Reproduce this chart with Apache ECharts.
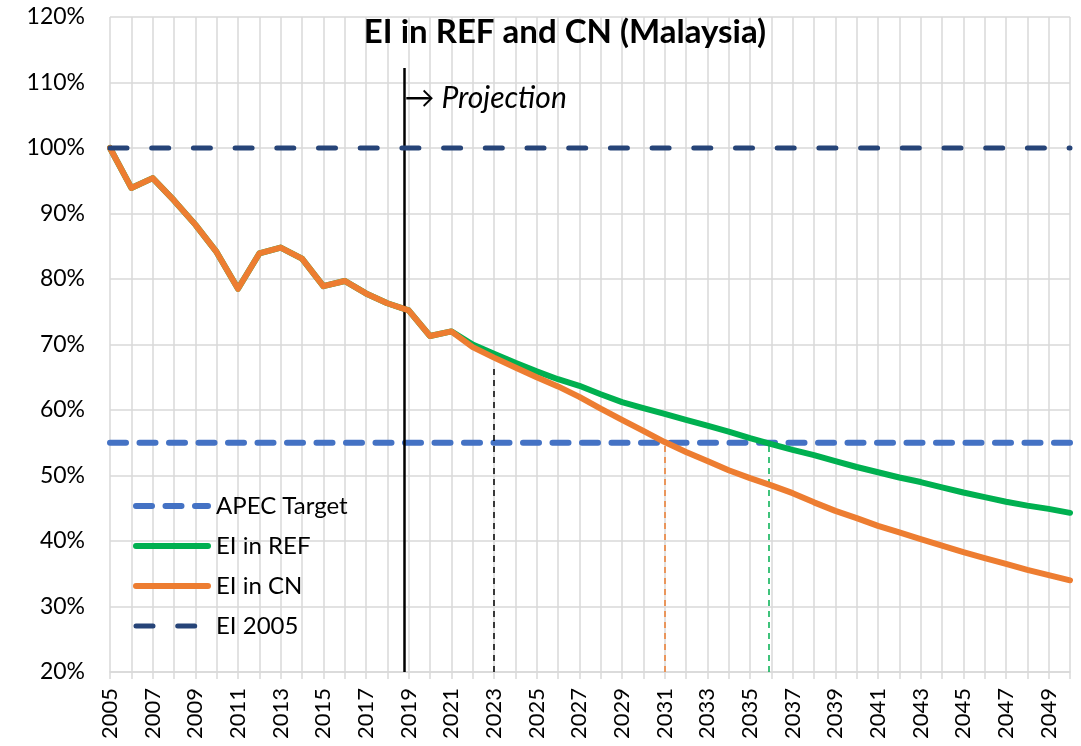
<!DOCTYPE html>
<html>
<head>
<meta charset="utf-8">
<script src="https://cdn.jsdelivr.net/npm/echarts@6/dist/echarts.min.js"></script>
<style>
  html, body { margin: 0; padding: 0; background: #fff; }
  #chart { width: 1081px; height: 746px; }
</style>
</head>
<body>
<div id="chart"></div>
<script>
// years on the x axis
var years = [];
for (var y = 2005; y <= 2050; y++) years.push(y);

// historical intensity, same for both scenarios (2005-2021)
var histEI = [100, 93.9, 95.4, 92.0, 88.3, 84.1, 78.5, 83.9, 84.8, 83.1, 78.9, 79.7, 77.8, 76.3, 75.2, 71.3, 72.0];
// projections 2022-2050
var refEI = [70.0, 68.6, 67.2, 65.9, 64.7, 63.7, 62.4, 61.2, 60.3, 59.4, 58.5, 57.6, 56.7, 55.7, 54.8, 53.9, 53.1, 52.2, 51.3, 50.5, 49.7, 49.0, 48.2, 47.4, 46.7, 46.0, 45.4, 44.9, 44.3];
var cnEI = [69.6, 68.0, 66.5, 65.0, 63.6, 62.0, 60.2, 58.5, 56.8, 55.1, 53.6, 52.2, 50.8, 49.6, 48.5, 47.3, 45.9, 44.6, 43.5, 42.3, 41.3, 40.3, 39.3, 38.3, 37.4, 36.5, 35.6, 34.8, 34.0];

var apecTarget = 55;
var ei2005 = 100;

// projection start and the drop lines
var projYear = 2018.8, projTop = 112.2;
var dropYears = [2023, 2031, 2035.9];
var dropTops = [66.7, 55, 55];
var dropColors = ['#000000', '#ED7D31', '#00B050'];

var yTicks = [20, 120, 10]; // min, max, step

function pairs(vals) {
  var out = [];
  for (var i = 0; i < vals.length; i++) out.push([years[i], vals[i]]);
  return out;
}
var refData = pairs(histEI.concat(refEI));
var cnData = pairs(histEI.concat(cnEI));
var first = years[0], last = years[years.length - 1];

var font = 'Lato, "Liberation Sans", sans-serif';
var gridColor = '#d9d9d9';

var styles = {
  'APEC Target': { color: '#4472C4', width: 6, type: [16, 13.5], cap: 'round' },
  'EI in REF': { color: '#00B050', width: 6, type: 'solid', cap: 'round', join: 'round' },
  'EI in CN': { color: '#ED7D31', width: 6, type: 'solid', cap: 'round', join: 'round' },
  'EI 2005': { color: '#264478', width: 5, type: [17, 24.7], cap: 'round' }
};

var dropLines = [];
for (var k = 0; k < dropYears.length; k++) {
  dropLines.push([
    { coord: [dropYears[k], yTicks[0]], lineStyle: { color: dropColors[k], type: [6, 5], width: 1.5 } },
    { coord: [dropYears[k], dropTops[k]] }
  ]);
}
dropLines.push([
  { coord: [projYear, yTicks[0]], lineStyle: { color: '#000', type: 'solid', width: 2.5 } },
  { coord: [projYear, projTop] }
]);

var legendItems = ['APEC Target', 'EI in REF', 'EI in CN', 'EI 2005'].map(function (n) {
  var s = styles[n];
  return {
    name: n,
    itemStyle: { opacity: 0 },
    lineStyle: { color: s.color, width: s.width, type: s.type, cap: 'round' }
  };
});

var chart = echarts.init(document.getElementById('chart'), null, { renderer: 'canvas' });
var option = {
  backgroundColor: '#fff',
  animation: false,
  title: {
    text: 'EI in REF and CN (Malaysia)',
    left: 560,
    textAlign: 'center',
    top: 11,
    textStyle: { fontFamily: font, fontWeight: 'bold', fontSize: 33, color: '#000' }
  },
  legend: {
    orient: 'vertical',
    left: 128,
    top: 489,
    itemWidth: 72,
    itemHeight: 14,
    itemGap: 16,
    data: legendItems,
    textStyle: { fontFamily: font, fontSize: 24, color: '#000', padding: [0, 0, 0, 3] }
  },
  grid: { left: 110, right: 11, top: 17, bottom: 74 },
  xAxis: {
    type: 'value',
    min: first,
    max: last,
    interval: 1,
    axisLine: { show: true, lineStyle: { color: gridColor, width: 1.5 } },
    axisTick: { show: true, length: 7, lineStyle: { color: gridColor, width: 1.5 } },
    splitLine: { show: true, lineStyle: { color: gridColor, width: 1.5 } },
    axisLabel: {
      rotate: 90,
      margin: 16,
      fontFamily: font,
      fontSize: 22,
      color: '#000',
      formatter: function (v) { return (v - first) % 2 === 0 ? String(v) : ''; }
    }
  },
  yAxis: {
    type: 'value',
    min: yTicks[0],
    max: yTicks[1],
    interval: yTicks[2],
    axisLine: { show: false },
    axisTick: { show: false },
    splitLine: { show: true, lineStyle: { color: gridColor, width: 1.5 } },
    axisLabel: { margin: 25, fontFamily: font, fontSize: 23, color: '#000', formatter: '{value}%' }
  },
  series: [
    {
      name: 'APEC Target',
      type: 'line',
      symbol: 'none',
      data: [[first, apecTarget], [last, apecTarget]],
      lineStyle: styles['APEC Target'],
      itemStyle: { color: '#4472C4' },
      z: 3
    },
    {
      name: 'EI in REF',
      type: 'line',
      symbol: 'none',
      data: refData,
      lineStyle: styles['EI in REF'],
      itemStyle: { color: '#00B050' },
      z: 4,
      markLine: {
        silent: true,
        symbol: 'none',
        label: { show: false },
        data: dropLines
      },
      markPoint: {
        silent: true,
        symbol: 'circle',
        symbolSize: 0,
        data: [{ coord: [projYear, 107.6] }],
        label: {
          show: true,
          position: 'right',
          distance: 0,
          formatter: '\u2192 Projection',
          fontFamily: font,
          fontStyle: 'italic',
          fontSize: 30,
          color: '#000'
        }
      }
    },
    {
      name: 'EI in CN',
      type: 'line',
      symbol: 'none',
      data: cnData,
      lineStyle: styles['EI in CN'],
      itemStyle: { color: '#ED7D31' },
      z: 5
    },
    {
      name: 'EI 2005',
      type: 'line',
      symbol: 'none',
      data: [[first, ei2005], [last, ei2005]],
      lineStyle: styles['EI 2005'],
      itemStyle: { color: '#264478' },
      z: 6
    }
  ]
};
chart.setOption(option);
</script>
</body>
</html>
